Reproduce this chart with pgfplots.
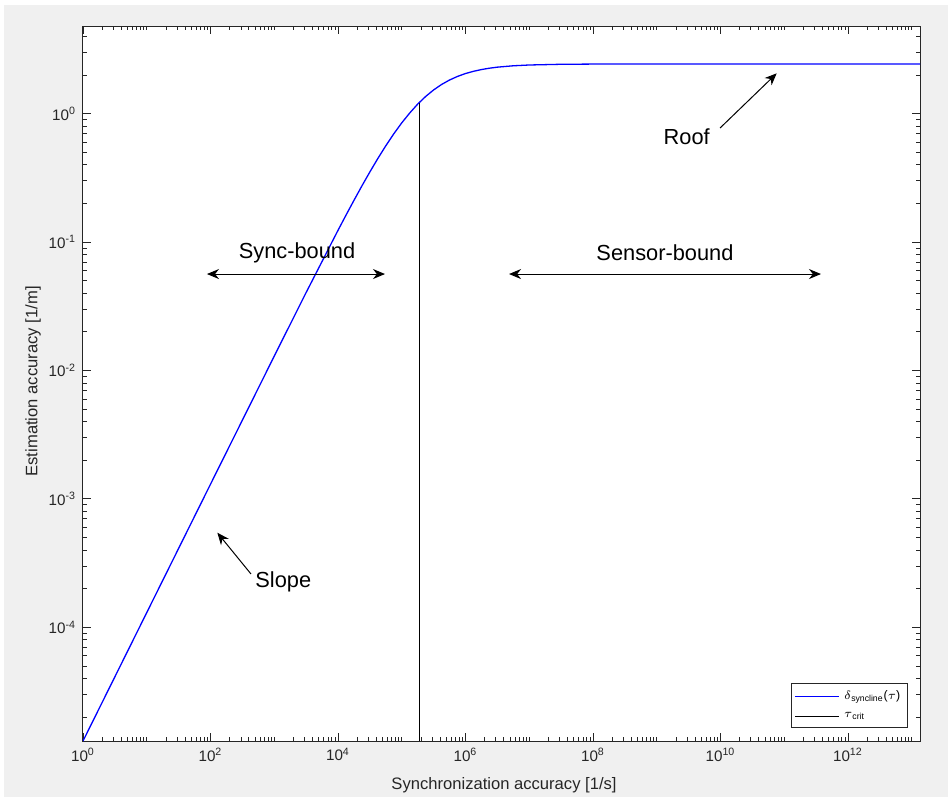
\documentclass[border=0pt]{standalone}
\usepackage{pgfplots}
\pgfplotsset{compat=1.18}
\usepackage{fontspec}
\setmainfont{Liberation Sans}
\usetikzlibrary{arrows.meta}
\definecolor{figbg}{HTML}{F0F0F0}
\definecolor{axgray}{HTML}{262626}
\begin{document}
\begin{tikzpicture}
\fill[white] (-41.5bp,-28bp) rectangle (432.5bp,370.5bp);
\fill[figbg] (-39.5bp,-28bp) rectangle (432.5bp,368bp);
\useasboundingbox (-41.5bp,-28bp) rectangle (432.5bp,370.5bp);
\begin{axis}[
  scale only axis, width=418.5bp, height=357.5bp,
  at={(0,0)}, anchor=south west,
  xmode=log, ymode=log,
  xmin=1, xmax=1.35e13, ymin=1.3e-5, ymax=4.82,
  axis background/.style={fill=white},
  axis line style={axgray, line width=0.5pt},
  every tick/.style={axgray, line width=0.4pt},
  major tick length=4bp, minor tick length=2bp,
  tick align=inside,
  xtick={1,1e2,1e4,1e6,1e8,1e10,1e12},
  xticklabels={10\textsuperscript{0},10\textsuperscript{2},10\textsuperscript{4},10\textsuperscript{6},10\textsuperscript{8},10\textsuperscript{10},10\textsuperscript{12}},
  minor xtick={2,3,4,5,6,7,8,9,10,20,30,40,50,60,70,80,90,
    2e2,3e2,4e2,5e2,6e2,7e2,8e2,9e2,1e3,2e3,3e3,4e3,5e3,6e3,7e3,8e3,9e3,
    2e4,3e4,4e4,5e4,6e4,7e4,8e4,9e4,1e5,2e5,3e5,4e5,5e5,6e5,7e5,8e5,9e5,
    2e6,3e6,4e6,5e6,6e6,7e6,8e6,9e6,1e7,2e7,3e7,4e7,5e7,6e7,7e7,8e7,9e7,
    2e8,3e8,4e8,5e8,6e8,7e8,8e8,9e8,1e9,2e9,3e9,4e9,5e9,6e9,7e9,8e9,9e9,
    2e10,3e10,4e10,5e10,6e10,7e10,8e10,9e10,1e11,2e11,3e11,4e11,5e11,6e11,7e11,8e11,9e11,
    2e12,3e12,4e12,5e12,6e12,7e12,8e12,9e12,1e13},
  ytick={1e-4,1e-3,1e-2,1e-1,1},
  yticklabels={10\textsuperscript{-4},10\textsuperscript{-3},10\textsuperscript{-2},10\textsuperscript{-1},10\textsuperscript{0}},
  minor ytick={2e-5,3e-5,4e-5,5e-5,6e-5,7e-5,8e-5,9e-5,
    2e-4,3e-4,4e-4,5e-4,6e-4,7e-4,8e-4,9e-4,
    2e-3,3e-3,4e-3,5e-3,6e-3,7e-3,8e-3,9e-3,
    2e-2,3e-2,4e-2,5e-2,6e-2,7e-2,8e-2,9e-2,
    0.2,0.3,0.4,0.5,0.6,0.7,0.8,0.9,2,3,4},
  ticklabel style={font=\fontsize{7.6bp}{9bp}\selectfont, text=axgray},
  xlabel={Synchronization accuracy [1/s]},
  ylabel={Estimation accuracy [1/m]},
  label style={font=\fontsize{8.3bp}{10bp}\selectfont, text=axgray},
  xlabel style={at={(axis description cs:0.503,-0.0615)}, anchor=center},
  ylabel style={at={(axis description cs:-0.0597,0.503)}, anchor=center, rotate=0},
  legend style={at={(0.9853,0.0178)}, anchor=south east, draw=axgray, line width=0.5pt,
    font=\fontsize{6.2bp}{7.5bp}\selectfont, inner sep=1.5bp, row sep=1bp},
  legend cell align=left,
  legend image code/.code={\draw[#1] (0bp,0bp) -- (22bp,0bp);},
  clip=true,
]
\addplot[blue, line width=0.65pt] coordinates {
 (1,1.3e-5) (10,1.3e-4) (100,1.3e-3) (1000,0.01293) (3162,0.04043) (10000,0.1234)
 (13335,0.16185) (17783,0.2111) (23714,0.2737) (31623,0.3518) (42170,0.4476)
 (56234,0.5624) (74990,0.6966) (100000,0.8482) (133350,1.0119) (177828,1.187)
 (237140,1.3617) (316228,1.531) (421700,1.6889) (562341,1.830) (749900,1.9516)
 (1e6,2.055) (1.3335e6,2.1384) (1.778e6,2.207) (2.3714e6,2.2611) (3.162e6,2.304)
 (5.6234e6,2.3614) (1e7,2.395) (3.162e7,2.426) (1e8,2.435) (1e9,2.4395)
 (1e10,2.440) (1.35e13,2.440)
};
\addlegendentry{$\delta$\textsubscript{syncline}($\tau$)}
\addplot[black, line width=0.5pt] coordinates {(1.88e5,1.3e-5) (1.88e5,1.221)};
\addlegendentry{$\tau$\textsubscript{crit}}
% annotations
\draw[{Stealth[length=6bp,width=5bp]}-{Stealth[length=6bp,width=5bp]}, line width=0.5pt]
  (rel axis cs:0.1481,0.6531) -- (rel axis cs:0.3608,0.6531);
\node[font=\fontsize{10.9bp}{13bp}\selectfont] at (rel axis cs:0.2557,0.6825) {Sync-bound};
\draw[{Stealth[length=6bp,width=5bp]}-{Stealth[length=6bp,width=5bp]}, line width=0.5pt]
  (rel axis cs:0.5090,0.6531) -- (rel axis cs:0.8817,0.6531);
\node[font=\fontsize{10.9bp}{13bp}\selectfont] at (rel axis cs:0.6953,0.6825) {Sensor-bound};
\draw[-{Stealth[length=6bp,width=5bp]}, line width=0.5pt]
  (rel axis cs:0.7611,0.8573) -- (rel axis cs:0.8288,0.9338);
\node[font=\fontsize{10.9bp}{13bp}\selectfont] at (rel axis cs:0.7213,0.8452) {Roof};
\draw[-{Stealth[length=6bp,width=5bp]}, line width=0.5pt]
  (rel axis cs:0.2007,0.2336) -- (rel axis cs:0.1605,0.2913);
\node[font=\fontsize{10.9bp}{13bp}\selectfont] at (rel axis cs:0.2393,0.2228) {Slope};
\end{axis}
\end{tikzpicture}
\end{document}
